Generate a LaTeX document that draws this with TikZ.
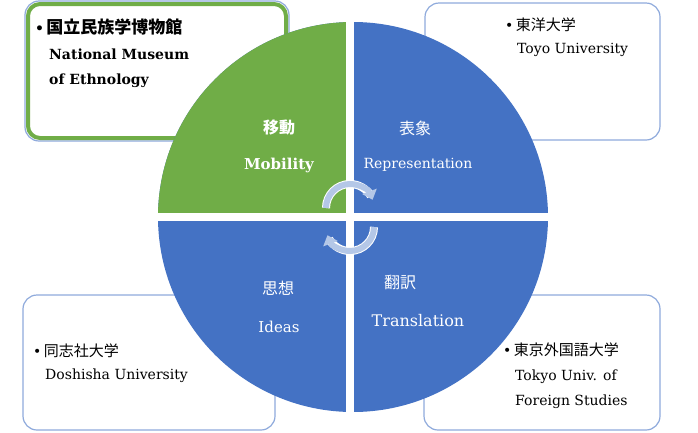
\documentclass[tikz,border=0pt]{standalone}
\usepackage{fontspec}
\setmainfont{DejaVu Serif}
\newfontfamily\cjk{Noto Sans CJK JP}
\usetikzlibrary{arrows.meta}
\definecolor{gr}{HTML}{70AD47}
\definecolor{bl}{HTML}{4472C4}
\definecolor{bx}{HTML}{8FAADC}
\definecolor{ar}{HTML}{B4C7E7}
\begin{document}
\begin{tikzpicture}[x=1pt,y=-1pt,
  box/.style={draw=bx,line width=1.2pt,rounded corners=14pt,fill=white},
  lt/.style={anchor=west,font=\fontsize{14}{16}\selectfont,inner sep=0pt},
  wt/.style={text=white,font=\fontsize{15}{17}\selectfont,inner sep=0pt},
  arr/.style={ar,line width=6pt,-{Triangle[width=15pt,length=9pt]}}]
\useasboundingbox (0,0) rectangle (698,432);
\draw[box] (25,1) rectangle (289,141);
\draw[gr,line width=4pt,rounded corners=12pt] (28,4) rectangle (286,138);
\draw[box] (425,3) rectangle (660,140);
\draw[box] (23,295) rectangle (275,430);
\draw[box] (424,295) rectangle (660,430);
\coordinate (c) at (353,217);
\fill[bl] (c) circle[radius=195];
\begin{scope}
\clip (150,10) rectangle (350,217);
\fill[gr] (c) circle[radius=195];
\end{scope}
\draw[white,line width=8pt] (350,15) -- (350,420);
\draw[white,line width=8pt] (150,217) -- (560,217);
\draw[white,line width=8pt] (326,208) arc[start angle=180,end angle=330,radius=24];
\draw[white,line width=8pt] (374,227) arc[start angle=0,end angle=150,radius=24];
\draw[arr] (326,208) arc[start angle=180,end angle=340,radius=24];
\draw[arr] (374,227) arc[start angle=0,end angle=160,radius=24];
\node[lt,font=\fontsize{14}{16}\selectfont\bfseries] (t1) at (35,27) {•\,{\fontsize{17}{19}\selectfont\cjk 国立民族学博物館}};
\node[lt,font=\fontsize{14}{16}\selectfont\bfseries] (t2) at (49,54) {National Museum};
\node[lt,font=\fontsize{14}{16}\selectfont\bfseries] (t3) at (49,81) {of Ethnology};
\node[lt] (r1) at (505,25) {•\,{\fontsize{15}{17}\selectfont\cjk 東洋大学}};
\node[lt] (r2) at (517,50) {Toyo University};
\node[lt] (b1) at (33,351) {•\,{\fontsize{15}{17}\selectfont\cjk 同志社大学}};
\node[lt] (b2) at (45,376) {Doshisha University};
\node[lt] (d1) at (503,350) {•\,{\fontsize{15}{17}\selectfont\cjk 東京外国語大学}};
\node[lt] (d2) at (515,377) {Tokyo Univ. of};
\node[lt] (d3) at (515,402) {Foreign Studies};
\node[wt,font=\fontsize{16}{18}\selectfont\bfseries] (m1) at (279,127) {\cjk 移動};
\node[wt,font=\fontsize{15}{17}\selectfont\bfseries] (m2) at (279,165) {Mobility};
\node[wt,font=\fontsize{16}{18}\selectfont] (p1) at (415,128) {\cjk 表象};
\node[wt,font=\fontsize{14}{16}\selectfont] (p2) at (418,165) {Representation};
\node[wt,font=\fontsize{16}{18}\selectfont] (i1) at (278,288) {\cjk 思想};
\node[wt] (i2) at (279,327) {Ideas};
\node[wt,font=\fontsize{16}{18}\selectfont] (x1) at (400,282) {\cjk 翻訳};
\node[wt,font=\fontsize{16}{18}\selectfont] (x2) at (418,321) {Translation};
\end{tikzpicture}
\end{document}
